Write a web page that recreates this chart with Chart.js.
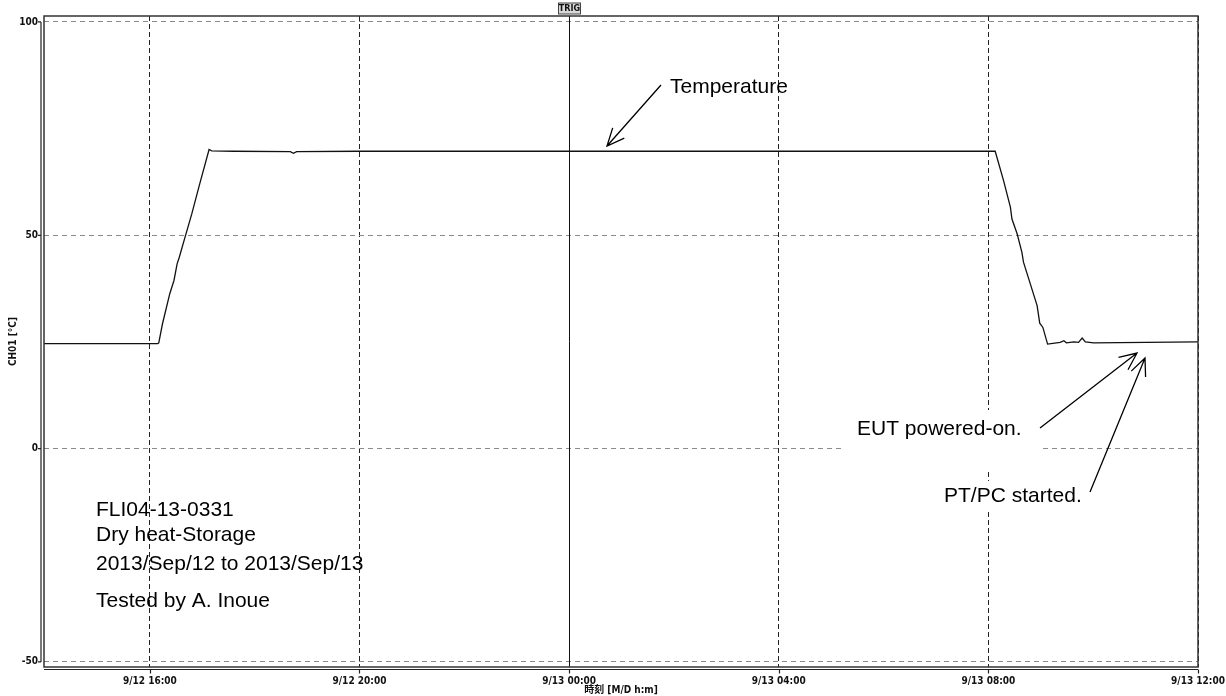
<!DOCTYPE html>
<html>
<head>
<meta charset="utf-8">
<script src="https://cdn.jsdelivr.net/npm/chart.js@4/dist/chart.umd.min.js"></script>
<style>
  html, body { margin: 0; padding: 0; background: #fff; }
  #wrap { width: 1226px; height: 696px; }
</style>
</head>
<body>
<div id="wrap"><canvas id="chart" width="1226" height="696"></canvas></div>
<script>
"use strict";

// hours since 9/12 00:00, temperature in degC
const hours = [13.98, 15.0, 16.15, 16.17, 16.24, 16.38, 16.46, 16.52, 16.56, 16.67, 16.80, 16.95, 17.13, 17.18,
               17.6, 18.68, 18.74, 18.80, 20, 24, 28, 32.13,
               32.29, 32.42, 32.45, 32.55, 32.64, 32.67, 32.80, 32.93, 32.98, 33.04, 33.13,
               33.37, 33.44, 33.49, 33.63, 33.72, 33.79, 33.85, 34.01, 36];
const temps = [24.6, 24.6, 24.6, 24.8, 29.2, 36.3, 39.4, 43.3, 44.8, 49.5, 55.0, 62.0, 70.1, 69.8,
               69.7, 69.6, 69.2, 69.6, 69.7, 69.7, 69.7, 69.7,
               62.8, 56.6, 53.8, 50.3, 46.0, 43.7, 38.6, 33.5, 29.4, 28.4, 24.5,
               24.9, 25.3, 24.8, 25.0, 24.9, 25.9, 25.0, 24.8, 25.0];

const xTicks = [16, 20, 24, 28, 32, 36];
const xTickLabels = ["9/12 16:00", "9/12 20:00", "9/13 00:00", "9/13 04:00", "9/13 08:00", "9/13 12:00"];
const yTicks = [100, 50, 0, -50];
const trigHour = 24;

const SMALL = 'bold 10px "Liberation Sans Narrow", "DejaVu Sans Condensed", "Noto Sans CJK JP", sans-serif';
const NOTE = '21px "Liberation Sans", Arial, sans-serif';


function arrow(ctx, x1, y1, x2, y2) {
    let a = Math.atan2(y2 - y1, x2 - x1);
    let len = 19, spread = 0.42;
    ctx.beginPath();
    ctx.moveTo(x1, y1);
    ctx.lineTo(x2, y2);
    ctx.moveTo(x2 - len * Math.cos(a - spread), y2 - len * Math.sin(a - spread));
    ctx.lineTo(x2, y2);
    ctx.lineTo(x2 - len * Math.cos(a + spread), y2 - len * Math.sin(a + spread));
    ctx.stroke();
}


// white patches under the notes, over the grid
let notesBackground = {
    id: "notesBackground",
    beforeDatasetsDraw(chart) {
        let ctx = chart.ctx;
        ctx.save();
        ctx.fillStyle = "#fff";
        ctx.fillRect(843, 410, 197, 60);
        ctx.fillRect(940, 481, 148, 28);
        ctx.restore();
    }
};


let recorderFrame = {
    id: "recorderFrame",
    afterDraw(chart) {
        let ctx = chart.ctx;
        let area = chart.chartArea;
        let xs = chart.scales.x;
        let ys = chart.scales.y;
        ctx.save();

        // trigger line (solid)
        let tx = Math.round(xs.getPixelForValue(trigHour)) + 0.5;
        ctx.strokeStyle = "#111";
        ctx.lineWidth = 1;
        ctx.beginPath();
        ctx.moveTo(tx, area.top);
        ctx.lineTo(tx, area.bottom);
        ctx.stroke();

        // frame
        ctx.strokeStyle = "#333";
        ctx.lineWidth = 1.5;
        ctx.strokeRect(area.left, area.top, area.right - area.left, area.bottom - area.top);

        // y axis line with ticks, left of the frame
        let ax = area.left - 3;
        ctx.lineWidth = 1.2;
        ctx.strokeStyle = "#222";
        ctx.beginPath();
        ctx.moveTo(ax, ys.getPixelForValue(yTicks[0]));
        ctx.lineTo(ax, ys.getPixelForValue(yTicks[yTicks.length - 1]));
        yTicks.forEach(v => {
            let py = ys.getPixelForValue(v);
            ctx.moveTo(ax - 3, py);
            ctx.lineTo(ax, py);
        });
        ctx.stroke();

        ctx.font = SMALL;
        ctx.fillStyle = "#111";
        ctx.textAlign = "right";
        ctx.textBaseline = "middle";
        yTicks.forEach(v => {
            ctx.fillText(String(v), ax - 3, ys.getPixelForValue(v));
        });

        // x axis line with ticks, under the frame
        let ay = area.bottom + 2.5;
        ctx.beginPath();
        ctx.moveTo(area.left, ay);
        ctx.lineTo(area.right, ay);
        xTicks.forEach(h => {
            let px = Math.round(xs.getPixelForValue(h)) + 0.5;
            ctx.moveTo(px, ay);
            ctx.lineTo(px, ay + 4);
        });
        ctx.stroke();

        ctx.textAlign = "center";
        xTicks.forEach((h, i) => {
            ctx.fillText(xTickLabels[i], xs.getPixelForValue(h), 681);
        });
        ctx.fillText("時刻 [M/D h:m]", 621, 690);

        // y title
        ctx.save();
        ctx.translate(13, (area.top + area.bottom) / 2);
        ctx.rotate(-Math.PI / 2);
        ctx.fillText("CH01 [°C]", 0, 0);
        ctx.restore();

        // TRIG label
        ctx.fillStyle = "#d8d8d8";
        ctx.fillRect(tx - 11, 3, 22, 11);
        ctx.strokeStyle = "#444";
        ctx.lineWidth = 1;
        ctx.strokeRect(tx - 11, 3, 22, 11);
        ctx.fillStyle = "#111";
        ctx.font = 'bold 9px "Liberation Sans Narrow", "DejaVu Sans Condensed", sans-serif';
        ctx.fillText("TRIG", tx, 9);

        // notes
        ctx.font = NOTE;
        ctx.fillStyle = "#000";
        ctx.textAlign = "left";
        ctx.textBaseline = "alphabetic";
        ctx.fillText("Temperature", 670, 93);
        ctx.fillText("FLI04-13-0331", 96, 516);
        ctx.fillText("Dry heat-Storage", 96, 541);
        ctx.fillText("2013/Sep/12 to 2013/Sep/13", 96, 570);
        ctx.fillText("Tested by A. Inoue", 96, 607);
        ctx.fillText("EUT powered-on.", 857, 435);
        ctx.fillText("PT/PC started.", 944, 502);

        ctx.strokeStyle = "#000";
        ctx.lineWidth = 1.3;
        arrow(ctx, 661, 85, 607, 146);
        arrow(ctx, 1040, 428, 1137, 353);
        arrow(ctx, 1090, 492, 1145, 358);

        ctx.restore();
    }
};


let ctx = document.getElementById("chart").getContext("2d");

let tempChart = new Chart(ctx, {
    type: "line",
    data: {
        datasets: [{
            label: "CH01",
            data: hours.map((h, i) => ({ x: h, y: temps[i] })),
            borderColor: "#111",
            borderWidth: 1.3,
            pointRadius: 0,
            tension: 0,
            fill: false
        }]
    },
    options: {
        responsive: false,
        animation: false,
        events: [],
        layout: {
            padding: { left: 44, right: 28, top: 16, bottom: 29 }
        },
        plugins: {
            legend: { display: false },
            tooltip: { enabled: false }
        },
        scales: {
            x: {
                type: "linear",
                min: 13.98,
                max: 36,
                afterBuildTicks: axis => { axis.ticks = xTicks.map(v => ({ value: v })); },
                ticks: { display: false },
                border: { display: false, dash: [5, 3] },
                grid: {
                    drawTicks: false,
                    color: c => (c.tick && c.tick.value === trigHour) ? "rgba(0,0,0,0)" : "#222",
                    lineWidth: 1
                }
            },
            y: {
                type: "linear",
                min: -51.2,
                max: 101.4,
                afterBuildTicks: axis => { axis.ticks = yTicks.map(v => ({ value: v })); },
                ticks: { display: false },
                border: { display: false, dash: [5, 4] },
                grid: {
                    drawTicks: false,
                    color: "#8a8a8a",
                    lineWidth: 1
                }
            }
        }
    },
    plugins: [notesBackground, recorderFrame]
});
</script>
</body>
</html>
